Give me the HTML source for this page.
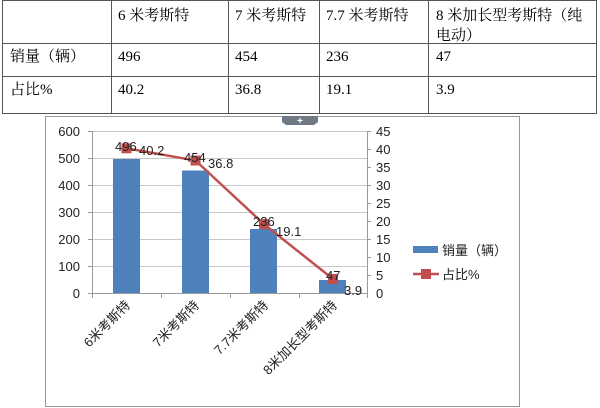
<!DOCTYPE html>
<html><head><meta charset="utf-8"><style>
body{margin:0;background:#fff;width:600px;height:408px;overflow:hidden}
svg{display:block}
.t{font-family:"Liberation Serif","Noto Serif CJK SC",serif;font-size:15px;fill:#000}
.a{font-family:"Liberation Sans","Noto Sans CJK SC",sans-serif;font-size:13px;fill:#222}
</style></head><body>
<svg width="600" height="408" xmlns="http://www.w3.org/2000/svg">
<g stroke="#555" stroke-width="1" fill="none">
<rect x="2.5" y="0.5" width="594" height="113"/>
<line x1="2" y1="43.5" x2="597" y2="43.5"/>
<line x1="2" y1="76.5" x2="597" y2="76.5"/>
<line x1="111.5" y1="0" x2="111.5" y2="114"/>
<line x1="228.5" y1="0" x2="228.5" y2="114"/>
<line x1="319.5" y1="0" x2="319.5" y2="114"/>
<line x1="428.5" y1="0" x2="428.5" y2="114"/>
</g>
<g class="t">
<text x="118" y="20">6 米考斯特</text>
<text x="235" y="20">7 米考斯特</text>
<text x="326" y="20">7.7 米考斯特</text>
<text x="436" y="20">8 米加长型考斯特（纯</text>
<text x="436" y="40">电动）</text>
<text x="10" y="61">销量（辆）</text>
<text x="118" y="61">496</text><text x="235" y="61">454</text><text x="326" y="61">236</text><text x="436" y="61">47</text>
<text x="10" y="94">占比%</text>
<text x="118" y="94">40.2</text><text x="235" y="94">36.8</text><text x="326" y="94">19.1</text><text x="436" y="94">3.9</text>
</g>
<rect x="45.5" y="116.5" width="474" height="290" fill="#fff" stroke="#999"/>
<path d="M282 116 h36 v6 l-4 3 h-28 l-4 -3z" fill="#707a85"/>
<text x="300" y="124" text-anchor="middle" font-family="Liberation Sans" font-size="10" font-weight="bold" fill="#fff">+</text>
<g stroke="#c8c8c8">
<line x1="92" y1="131.5" x2="367" y2="131.5"/>
<line x1="92" y1="158.5" x2="367" y2="158.5"/>
<line x1="92" y1="185.5" x2="367" y2="185.5"/>
<line x1="92" y1="212.5" x2="367" y2="212.5"/>
<line x1="92" y1="239.5" x2="367" y2="239.5"/>
<line x1="92" y1="266.5" x2="367" y2="266.5"/>
</g>
<g stroke="#999">
<line x1="92.5" y1="131" x2="92.5" y2="298"/>
<line x1="367.5" y1="131" x2="367.5" y2="294"/>
<line x1="88" y1="293.5" x2="367" y2="293.5"/>
<line x1="161.5" y1="293" x2="161.5" y2="298"/>
<line x1="230.5" y1="293" x2="230.5" y2="298"/>
<line x1="299.5" y1="293" x2="299.5" y2="298"/>
<line x1="367.5" y1="293" x2="367.5" y2="298"/>
<line x1="88" y1="131.5" x2="92" y2="131.5"/><line x1="88" y1="158.5" x2="92" y2="158.5"/><line x1="88" y1="185.5" x2="92" y2="185.5"/><line x1="88" y1="212.5" x2="92" y2="212.5"/><line x1="88" y1="239.5" x2="92" y2="239.5"/><line x1="88" y1="266.5" x2="92" y2="266.5"/>
<line x1="367" y1="131.5" x2="371" y2="131.5"/><line x1="367" y1="149.5" x2="371" y2="149.5"/><line x1="367" y1="167.5" x2="371" y2="167.5"/><line x1="367" y1="185.5" x2="371" y2="185.5"/><line x1="367" y1="203.5" x2="371" y2="203.5"/><line x1="367" y1="221.5" x2="371" y2="221.5"/><line x1="367" y1="239.5" x2="371" y2="239.5"/><line x1="367" y1="257.5" x2="371" y2="257.5"/><line x1="367" y1="275.5" x2="371" y2="275.5"/>
</g>
<g class="a" text-anchor="end">
<text x="80" y="136">600</text><text x="80" y="163">500</text><text x="80" y="190">400</text><text x="80" y="217">300</text><text x="80" y="244">200</text><text x="80" y="271">100</text><text x="80" y="298">0</text>
</g>
<g class="a">
<text x="376" y="136">45</text><text x="376" y="154">40</text><text x="376" y="172">35</text><text x="376" y="190">30</text><text x="376" y="208">25</text><text x="376" y="226">20</text><text x="376" y="244">15</text><text x="376" y="262">10</text><text x="376" y="280">5</text><text x="376" y="298">0</text>
</g>
<g fill="#4f81bd">
<rect x="113" y="159" width="27" height="134"/>
<rect x="182" y="170.5" width="27" height="122.5"/>
<rect x="250" y="229" width="27" height="64"/>
<rect x="319" y="280" width="27" height="13"/>
</g>
<polyline points="126.5,148.3 195.5,160.5 264,224.2 333,279" fill="none" stroke="#c0504d" stroke-width="2.5"/>
<g fill="#c0504d">
<rect x="121.5" y="143.3" width="10" height="10"/><rect x="190.5" y="155.5" width="10" height="10"/><rect x="259" y="219.2" width="10" height="10"/><rect x="328" y="274" width="10" height="10"/>
</g>
<g class="a">
<text x="115" y="151">496</text><text x="139" y="155">40.2</text>
<text x="184" y="162">454</text><text x="208" y="168">36.8</text>
<text x="253" y="226">236</text><text x="276" y="236">19.1</text>
<text x="326" y="280">47</text><text x="344" y="295">3.9</text>
</g>
<g class="a">
<text transform="translate(131,306) rotate(-45)" text-anchor="end">6米考斯特</text>
<text transform="translate(200,306) rotate(-45)" text-anchor="end">7米考斯特</text>
<text transform="translate(269,306) rotate(-45)" text-anchor="end">7.7米考斯特</text>
<text transform="translate(338,306) rotate(-45)" text-anchor="end">8米加长型考斯特</text>
</g>
<rect x="413" y="246" width="25" height="7" fill="#4f81bd"/>
<text class="a" x="442" y="255">销量（辆）</text>
<line x1="413" y1="274" x2="439" y2="274" stroke="#c0504d" stroke-width="2.5"/>
<rect x="421" y="269" width="10" height="10" fill="#c0504d"/>
<text class="a" x="442" y="279">占比%</text>
</svg>
</body></html>
